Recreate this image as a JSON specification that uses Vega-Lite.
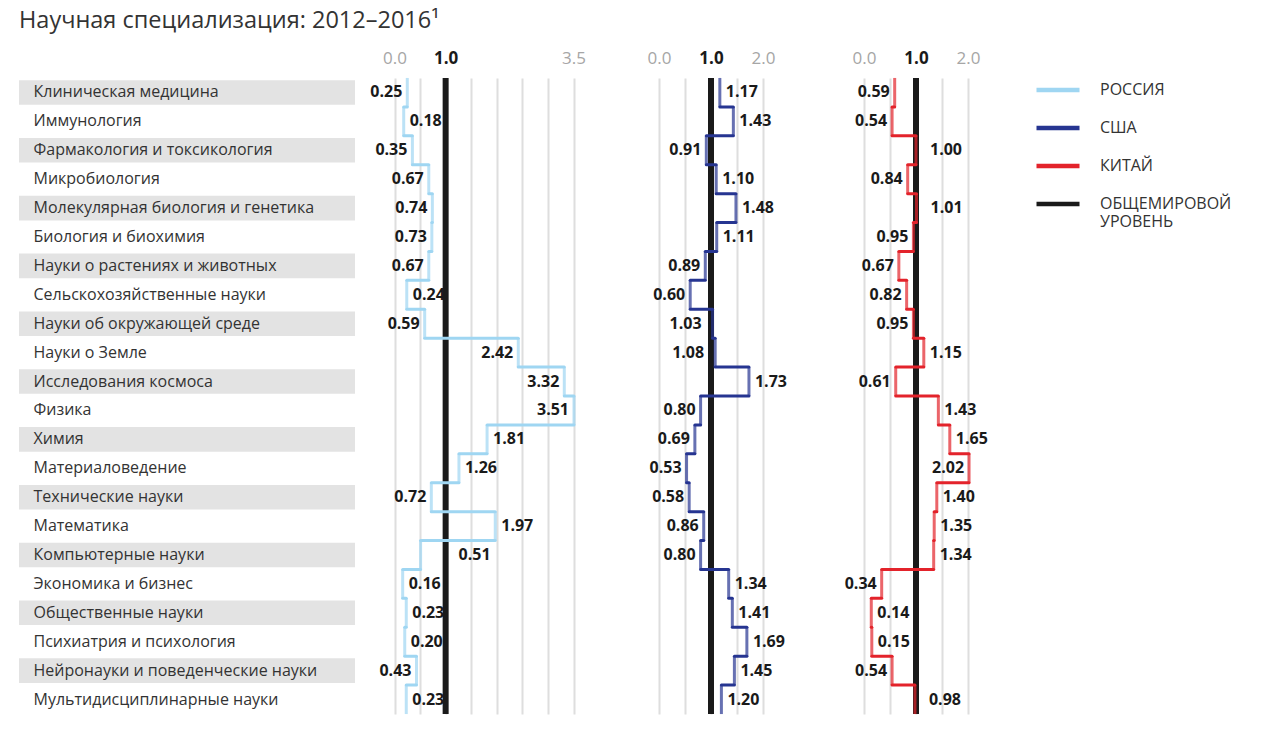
{
  "$schema": "https://vega.github.io/schema/vega-lite/v6.json",
  "background": "white",
  "padding": {"left": 19, "top": 9, "right": 0, "bottom": 0},
  "bounds": "flush",
  "spacing": 0,
  "title": {"text": "Научная специализация: 2012–2016¹", "anchor": "start", "fontSize": 23.5, "fontWeight": "normal", "color": "#333333", "offset": 16.5},
  "config": {"view": {"stroke": null}, "font": "Open Sans"},
  "datasets": {
    "sci": [
      {"n": 1, "f": "Клиническая медицина", "ru": 0.25, "us": 1.17, "cn": 0.59},
      {"n": 2, "f": "Иммунология", "ru": 0.18, "us": 1.43, "cn": 0.54},
      {"n": 3, "f": "Фармакология и токсикология", "ru": 0.35, "us": 0.91, "cn": 1.00},
      {"n": 4, "f": "Микробиология", "ru": 0.67, "us": 1.10, "cn": 0.84},
      {"n": 5, "f": "Молекулярная биология и генетика", "ru": 0.74, "us": 1.48, "cn": 1.01},
      {"n": 6, "f": "Биология и биохимия", "ru": 0.73, "us": 1.11, "cn": 0.95},
      {"n": 7, "f": "Науки о растениях и животных", "ru": 0.67, "us": 0.89, "cn": 0.67},
      {"n": 8, "f": "Сельскохозяйственные науки", "ru": 0.24, "us": 0.60, "cn": 0.82},
      {"n": 9, "f": "Науки об окружающей среде", "ru": 0.59, "us": 1.03, "cn": 0.95},
      {"n": 10, "f": "Науки о Земле", "ru": 2.42, "us": 1.08, "cn": 1.15},
      {"n": 11, "f": "Исследования космоса", "ru": 3.32, "us": 1.73, "cn": 0.61},
      {"n": 12, "f": "Физика", "ru": 3.51, "us": 0.80, "cn": 1.43},
      {"n": 13, "f": "Химия", "ru": 1.81, "us": 0.69, "cn": 1.65},
      {"n": 14, "f": "Материаловедение", "ru": 1.26, "us": 0.53, "cn": 2.02},
      {"n": 15, "f": "Технические науки", "ru": 0.72, "us": 0.58, "cn": 1.40},
      {"n": 16, "f": "Математика", "ru": 1.97, "us": 0.86, "cn": 1.35},
      {"n": 17, "f": "Компьютерные науки", "ru": 0.51, "us": 0.80, "cn": 1.34},
      {"n": 18, "f": "Экономика и бизнес", "ru": 0.16, "us": 1.34, "cn": 0.34},
      {"n": 19, "f": "Общественные науки", "ru": 0.23, "us": 1.41, "cn": 0.14},
      {"n": 20, "f": "Психиатрия и психология", "ru": 0.20, "us": 1.69, "cn": 0.15},
      {"n": 21, "f": "Нейронауки и поведенческие науки", "ru": 0.43, "us": 1.45, "cn": 0.54},
      {"n": 22, "f": "Мультидисциплинарные науки", "ru": 0.23, "us": 1.20, "cn": 0.98}
    ]
  },
  "data": {"name": "sci"},
  "hconcat": [
    {
      "width": 336,
      "height": 636,
      "mark": {"type": "rect"},
      "encoding": {
        "y": {"field": "f", "type": "nominal", "sort": {"field": "n", "op": "min"}, "title": null,
              "scale": {"paddingInner": 0.15, "paddingOuter": 0.075},
              "axis": {"orient": "left", "labelAlign": "left", "labelPadding": -14, "ticks": false, "tickSize": 0, "domain": false, "labelFontSize": 16, "labelColor": "#333333", "labelLimit": 400, "labelBaseline": "middle"}},
        "x": {"datum": 0, "type": "quantitative", "scale": {"domain": [0, 1], "nice": false}, "axis": null},
        "x2": {"datum": 1},
        "fill": {"condition": {"test": "datum.n % 2 == 1", "value": "#e3e3e3"}, "value": "#ffffff"}
      }
    },
    {
      "width": 304,
      "height": 636,
      "encoding": {
        "x": {"field": "v", "type": "quantitative",
              "scale": {"domain": [0, 3.5], "range": [39.5, 218.5], "nice": false, "zero": false},
              "axis": {"orient": "top", "values": [0, 0.5, 1, 1.5, 2, 2.5, 3, 3.5], "labelExpr": "datum.value == 0 ? '0.0' : datum.value == 1 ? '1.0' : datum.value == 3.5 ? '3.5' : ''", "grid": true, "gridColor": "#dedede", "gridWidth": 2, "domain": false, "ticks": false, "labelFontSize": 17, "labelPadding": 11, "labelColor": {"condition": {"test": "datum.value == 1", "value": "#1a1a1a"}, "value": "#a6a6a6"}, "labelFontWeight": {"condition": {"test": "datum.value == 1", "value": "bold"}, "value": "normal"}, "labelFlush": false, "labelOverlap": false, "title": null}}
      },
      "layer": [
        {
          "data": {"values": [{"v": 1, "c": "w"}]},
          "mark": {"type": "rule", "strokeWidth": 6},
          "encoding": {
            "color": {"field": "c", "type": "nominal",
                      "scale": {"domain": ["ru", "us", "cn", "w"], "range": ["#9fd6f2", "#263591", "#e3232b", "#1a1a1a"]},
                      "legend": {"orient": "none", "legendX": 1015, "legendY": -12, "title": null, "symbolType": "stroke", "symbolSize": 1849, "symbolStrokeWidth": 4.5, "labelFontSize": 16, "labelColor": "#333333", "labelOffset": 18, "rowPadding": 5, "labelLimit": 300,
                                 "labelExpr": "datum.label == 'ru' ? 'РОССИЯ' : datum.label == 'us' ? 'США' : datum.label == 'cn' ? 'КИТАЙ' : ['ОБЩЕМИРОВОЙ', 'УРОВЕНЬ']"}}
          }
        },
        {
          "transform": [
            {"fold": ["ru", "us", "cn"], "as": ["c", "v"]},
            {"filter": "datum.c == 'ru'"},
            {"window": [{"op": "lead", "field": "v", "as": "nx"}], "sort": [{"field": "n", "order": "ascending"}]},
            {"calculate": "indexof([2,8,13,14,16,18,19,20,22], datum.n) >= 0 ? 'R' : datum.n == 17 ? 'WR' : 'L'", "as": "s"}
          ],
          "layer": [
            {
              "transform": [{"filter": "isValid(datum.nx)"}],
              "mark": {"type": "rule", "strokeWidth": 3, "strokeCap": "round"},
              "encoding": {
                "x2": {"field": "nx"},
                "y": {"field": "n", "type": "ordinal", "bandPosition": 1, "scale": {"type": "band", "paddingInner": 0, "paddingOuter": 0}, "axis": null},
                "color": {"field": "c", "type": "nominal", "legend": null}
              }
            },
            {
              "mark": {"type": "tick", "thickness": 3, "size": 29, "orient": "vertical"},
              "encoding": {
                "y": {"field": "n", "type": "ordinal", "axis": null},
                "color": {"field": "c", "type": "nominal", "legend": null}
              }
            },
            {
              "transform": [{"filter": "datum.s == 'L'"}],
              "mark": {"type": "text", "align": "right", "dx": -5, "fontSize": 16, "fontWeight": "bold", "color": "#1a1a1a", "baseline": "middle"},
              "encoding": {"y": {"field": "n", "type": "ordinal", "axis": null}, "text": {"field": "v", "type": "quantitative", "format": ".2f"}}
            },
            {
              "transform": [{"filter": "datum.s == 'R'"}],
              "mark": {"type": "text", "align": "left", "dx": 6, "fontSize": 16, "fontWeight": "bold", "color": "#1a1a1a", "baseline": "middle"},
              "encoding": {"y": {"field": "n", "type": "ordinal", "axis": null}, "text": {"field": "v", "type": "quantitative", "format": ".2f"}}
            },
            {
              "transform": [{"filter": "datum.s == 'WR'"}],
              "mark": {"type": "text", "align": "left", "dx": 38, "fontSize": 16, "fontWeight": "bold", "color": "#1a1a1a", "baseline": "middle"},
              "encoding": {"y": {"field": "n", "type": "ordinal", "axis": null}, "text": {"field": "v", "type": "quantitative", "format": ".2f"}}
            }
          ]
        }
      ]
    },
    {
      "width": 205,
      "height": 636,
      "encoding": {
        "x": {"field": "v", "type": "quantitative",
              "scale": {"domain": [0, 2], "range": [0, 104], "nice": false, "zero": false},
              "axis": {"orient": "top", "values": [0, 0.5, 1, 1.5, 2], "labelExpr": "datum.value == 0 ? '0.0' : datum.value == 1 ? '1.0' : datum.value == 2 ? '2.0' : ''", "grid": true, "gridColor": "#dedede", "gridWidth": 2, "domain": false, "ticks": false, "labelFontSize": 17, "labelPadding": 11, "labelColor": {"condition": {"test": "datum.value == 1", "value": "#1a1a1a"}, "value": "#a6a6a6"}, "labelFontWeight": {"condition": {"test": "datum.value == 1", "value": "bold"}, "value": "normal"}, "labelFlush": false, "labelOverlap": false, "title": null}}
      },
      "layer": [
        {
          "data": {"values": [{"v": 1, "c": "w"}]},
          "mark": {"type": "rule", "strokeWidth": 6},
          "encoding": {"color": {"field": "c", "type": "nominal", "legend": null}}
        },
        {
          "transform": [
            {"fold": ["ru", "us", "cn"], "as": ["c", "v"]},
            {"filter": "datum.c == 'us'"},
            {"window": [{"op": "lead", "field": "v", "as": "nx"}], "sort": [{"field": "n", "order": "ascending"}]},
            {"calculate": "indexof([1,2,4,5,6,11,18,19,20,21,22], datum.n) >= 0 ? 'R' : (datum.n == 9 || datum.n == 10) ? 'WL' : 'L'", "as": "s"}
          ],
          "layer": [
            {
              "transform": [{"filter": "isValid(datum.nx)"}],
              "mark": {"type": "rule", "strokeWidth": 3, "strokeCap": "round"},
              "encoding": {
                "x2": {"field": "nx"},
                "y": {"field": "n", "type": "ordinal", "bandPosition": 1, "scale": {"type": "band", "paddingInner": 0, "paddingOuter": 0}, "axis": null},
                "color": {"field": "c", "type": "nominal", "legend": null}
              }
            },
            {
              "mark": {"type": "tick", "thickness": 3, "size": 29, "orient": "vertical"},
              "encoding": {
                "y": {"field": "n", "type": "ordinal", "axis": null},
                "color": {"field": "c", "type": "nominal", "legend": null}
              }
            },
            {
              "transform": [{"filter": "datum.s == 'L'"}],
              "mark": {"type": "text", "align": "right", "dx": -5, "fontSize": 16, "fontWeight": "bold", "color": "#1a1a1a", "baseline": "middle"},
              "encoding": {"y": {"field": "n", "type": "ordinal", "axis": null}, "text": {"field": "v", "type": "quantitative", "format": ".2f"}}
            },
            {
              "transform": [{"filter": "datum.s == 'R'"}],
              "mark": {"type": "text", "align": "left", "dx": 6, "fontSize": 16, "fontWeight": "bold", "color": "#1a1a1a", "baseline": "middle"},
              "encoding": {"y": {"field": "n", "type": "ordinal", "axis": null}, "text": {"field": "v", "type": "quantitative", "format": ".2f"}}
            },
            {
              "transform": [{"filter": "datum.s == 'WL'"}],
              "mark": {"type": "text", "align": "right", "dx": -11, "fontSize": 16, "fontWeight": "bold", "color": "#1a1a1a", "baseline": "middle"},
              "encoding": {"y": {"field": "n", "type": "ordinal", "axis": null}, "text": {"field": "v", "type": "quantitative", "format": ".2f"}}
            }
          ]
        }
      ]
    },
    {
      "width": 104,
      "height": 636,
      "encoding": {
        "x": {"field": "v", "type": "quantitative",
              "scale": {"domain": [0, 2], "range": [0, 104], "nice": false, "zero": false},
              "axis": {"orient": "top", "values": [0, 0.5, 1, 1.5, 2], "labelExpr": "datum.value == 0 ? '0.0' : datum.value == 1 ? '1.0' : datum.value == 2 ? '2.0' : ''", "grid": true, "gridColor": "#dedede", "gridWidth": 2, "domain": false, "ticks": false, "labelFontSize": 17, "labelPadding": 11, "labelColor": {"condition": {"test": "datum.value == 1", "value": "#1a1a1a"}, "value": "#a6a6a6"}, "labelFontWeight": {"condition": {"test": "datum.value == 1", "value": "bold"}, "value": "normal"}, "labelFlush": false, "labelOverlap": false, "title": null}}
      },
      "layer": [
        {
          "data": {"values": [{"v": 1, "c": "w"}]},
          "mark": {"type": "rule", "strokeWidth": 6},
          "encoding": {"color": {"field": "c", "type": "nominal", "legend": null}}
        },
        {
          "transform": [
            {"fold": ["ru", "us", "cn"], "as": ["c", "v"]},
            {"filter": "datum.c == 'cn'"},
            {"window": [{"op": "lead", "field": "v", "as": "nx"}], "sort": [{"field": "n", "order": "ascending"}]},
            {"calculate": "indexof([10,12,13,15,16,17,19,20], datum.n) >= 0 ? 'R' : indexof([3,5,22], datum.n) >= 0 ? 'WR' : 'L'", "as": "s"}
          ],
          "layer": [
            {
              "transform": [{"filter": "isValid(datum.nx)"}],
              "mark": {"type": "rule", "strokeWidth": 3, "strokeCap": "round"},
              "encoding": {
                "x2": {"field": "nx"},
                "y": {"field": "n", "type": "ordinal", "bandPosition": 1, "scale": {"type": "band", "paddingInner": 0, "paddingOuter": 0}, "axis": null},
                "color": {"field": "c", "type": "nominal", "legend": null}
              }
            },
            {
              "mark": {"type": "tick", "thickness": 3, "size": 29, "orient": "vertical"},
              "encoding": {
                "y": {"field": "n", "type": "ordinal", "axis": null},
                "color": {"field": "c", "type": "nominal", "legend": null}
              }
            },
            {
              "transform": [{"filter": "datum.s == 'L'"}],
              "mark": {"type": "text", "align": "right", "dx": -5, "fontSize": 16, "fontWeight": "bold", "color": "#1a1a1a", "baseline": "middle"},
              "encoding": {"y": {"field": "n", "type": "ordinal", "axis": null}, "text": {"field": "v", "type": "quantitative", "format": ".2f"}}
            },
            {
              "transform": [{"filter": "datum.s == 'R'"}],
              "mark": {"type": "text", "align": "left", "dx": 6, "fontSize": 16, "fontWeight": "bold", "color": "#1a1a1a", "baseline": "middle"},
              "encoding": {"y": {"field": "n", "type": "ordinal", "axis": null}, "text": {"field": "v", "type": "quantitative", "format": ".2f"}}
            },
            {
              "transform": [{"filter": "datum.s == 'WR'"}],
              "mark": {"type": "text", "align": "left", "dx": 14, "fontSize": 16, "fontWeight": "bold", "color": "#1a1a1a", "baseline": "middle"},
              "encoding": {"y": {"field": "n", "type": "ordinal", "axis": null}, "text": {"field": "v", "type": "quantitative", "format": ".2f"}}
            }
          ]
        }
      ]
    }
  ]
}
